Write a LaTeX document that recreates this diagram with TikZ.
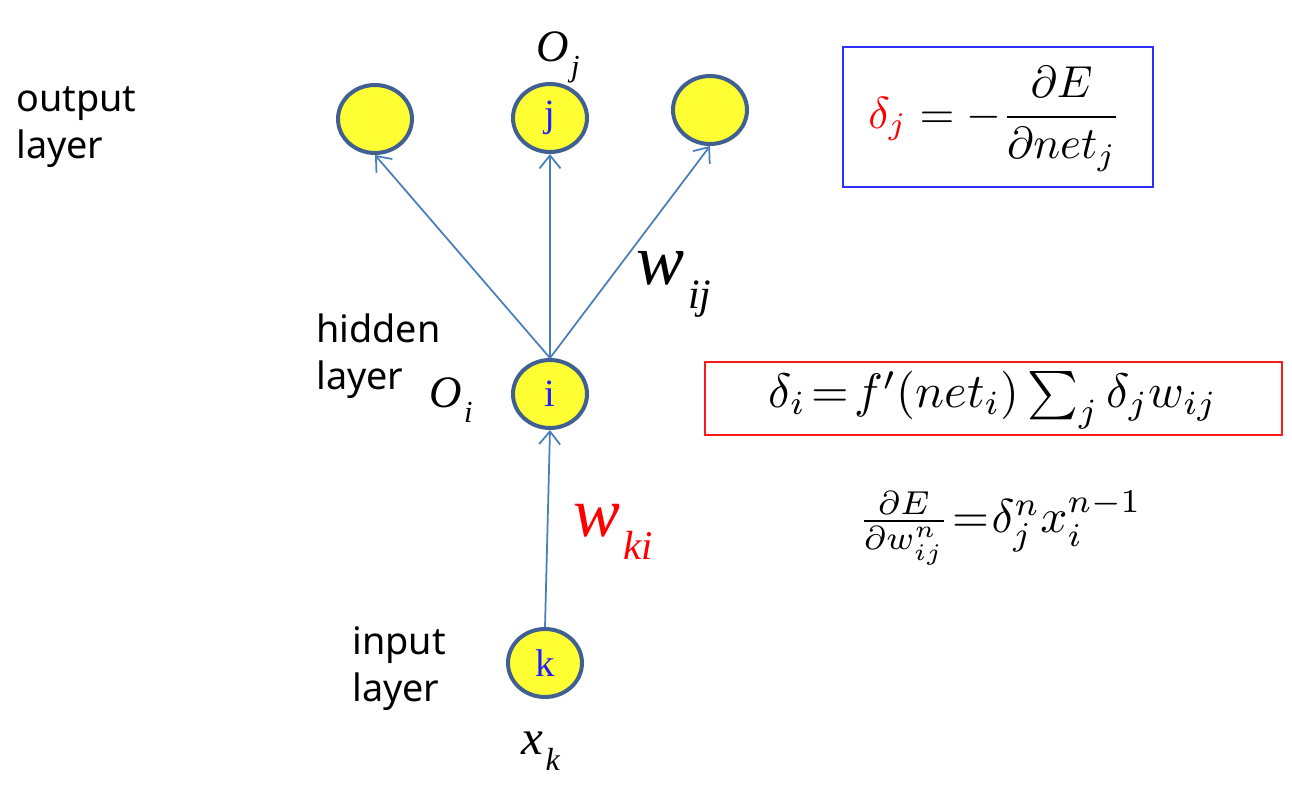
\documentclass[tikz,border=0pt]{standalone}
\usepackage{fontspec}
\usepackage{amsmath}
\usepackage{graphicx}
\usetikzlibrary{arrows.meta,shapes.geometric}
\setsansfont{Noto Sans}
\newfontfamily\tms{Liberation Serif}
\definecolor{arrowblue}{HTML}{4A7EBB}
\definecolor{nodeborder}{HTML}{3F6090}
\definecolor{nodefill}{HTML}{FFFF33}
\definecolor{boxblue}{HTML}{2E2EFF}
\definecolor{boxred}{HTML}{FF1A1A}
\definecolor{lblblue}{HTML}{1F1FFF}
% #1 size, #2 subscript ratio, #3 letter, #4 subscript
\newcommand\tsub[4]{{\fontsize{#1}{#1}\tms\itshape #3\kern0.05em\raisebox{-0.32em}{\fontsize{#2\dimexpr#1\relax}{0pt}\selectfont #4}}}
\tikzset{
  neuron/.style={ellipse, draw=nodeborder, fill=nodefill, line width=0.08cm,
    minimum width=1.48cm, minimum height=1.36cm, inner sep=0pt,
    text=lblblue, font=\fontsize{22pt}{22pt}\tms},
  conn/.style={draw=arrowblue, line width=0.035cm, -{Straight Barb[length=2.6mm,width=4.2mm,line width=0.035cm]}},
  layerlbl/.style={anchor=base west, align=left, inner sep=0pt,
    font=\fontsize{21.5pt}{26.8pt}\sffamily},
  varlbl/.style={anchor=base west, inner sep=0pt},
  eqtext/.style={inner sep=0pt}
}
\begin{document}
\begin{tikzpicture}[x=0.02cm,y=-0.02cm]
\useasboundingbox (0,0) rectangle (1292,786);
% neurons
\node[neuron] (o1) at (375,119) {};
\node[neuron] (oj) at (550,118) {j};
\node[neuron] (o3) at (710,110) {};
\node[neuron] (ni) at (550,394) {i};
\node[neuron] (nk) at (545,663) {k};
% connectors
\draw[conn] (ni.north) -- (o1.south);
\draw[conn] (ni.north) -- (oj.south);
\draw[conn] (ni.north) -- (o3.south);
\draw[conn] (nk.north) -- (ni.south);
% layer labels (anchor = baseline of the last line)
\node[layerlbl] (lout) at (16,159) {output\\layer};
\node[layerlbl] (lhid) at (316,390) {hidden\\layer};
\node[layerlbl] (linp) at (352,702) {input\\layer};
% variable labels
\node[varlbl] (Oj) at (536,62) {\tsub{25.6pt}{0.68}{O}{j}};
\node[varlbl] (Oi) at (429,408) {\tsub{25.6pt}{0.68}{O}{i}};
\node[varlbl] (wij) at (636,285) {\tsub{41pt}{0.58}{w}{ij}};
\node[varlbl, text=red] (wki) at (573,537) {\tsub{40pt}{0.58}{w}{ki}};
\node[varlbl] (xk) at (521,755) {\tsub{28pt}{0.65}{x}{k}};
% equation boxes
\draw[boxblue, line width=0.03cm] (843,47) rectangle (1153,187);
\node[eqtext] (eq1) at (995,119) {\scalebox{2.55}{$\displaystyle {\color{red}\delta_j} = -\frac{\partial E\rule[-0.3em]{0pt}{0pt}}{\rule{0pt}{1.85ex}\partial net_j}$}};
\draw[boxred, line width=0.03cm] (705,362) rectangle (1282,435);
\node[eqtext] (eq2) at (993,400) {\scalebox{2.75}{$\textstyle \delta_i\mskip2mu{=}\mskip2mu f'(net_i)\,{\sum}_j\,\delta_j w_{ij}$}};
\node[eqtext] (eq3) at (1000,528) {\scalebox{2.7}{$\textstyle \frac{\partial E}{\partial w^n_{ij}}\mskip1mu{=}\mskip1mu\delta^n_j x^{n-1}_i$}};
\end{tikzpicture}
\end{document}
